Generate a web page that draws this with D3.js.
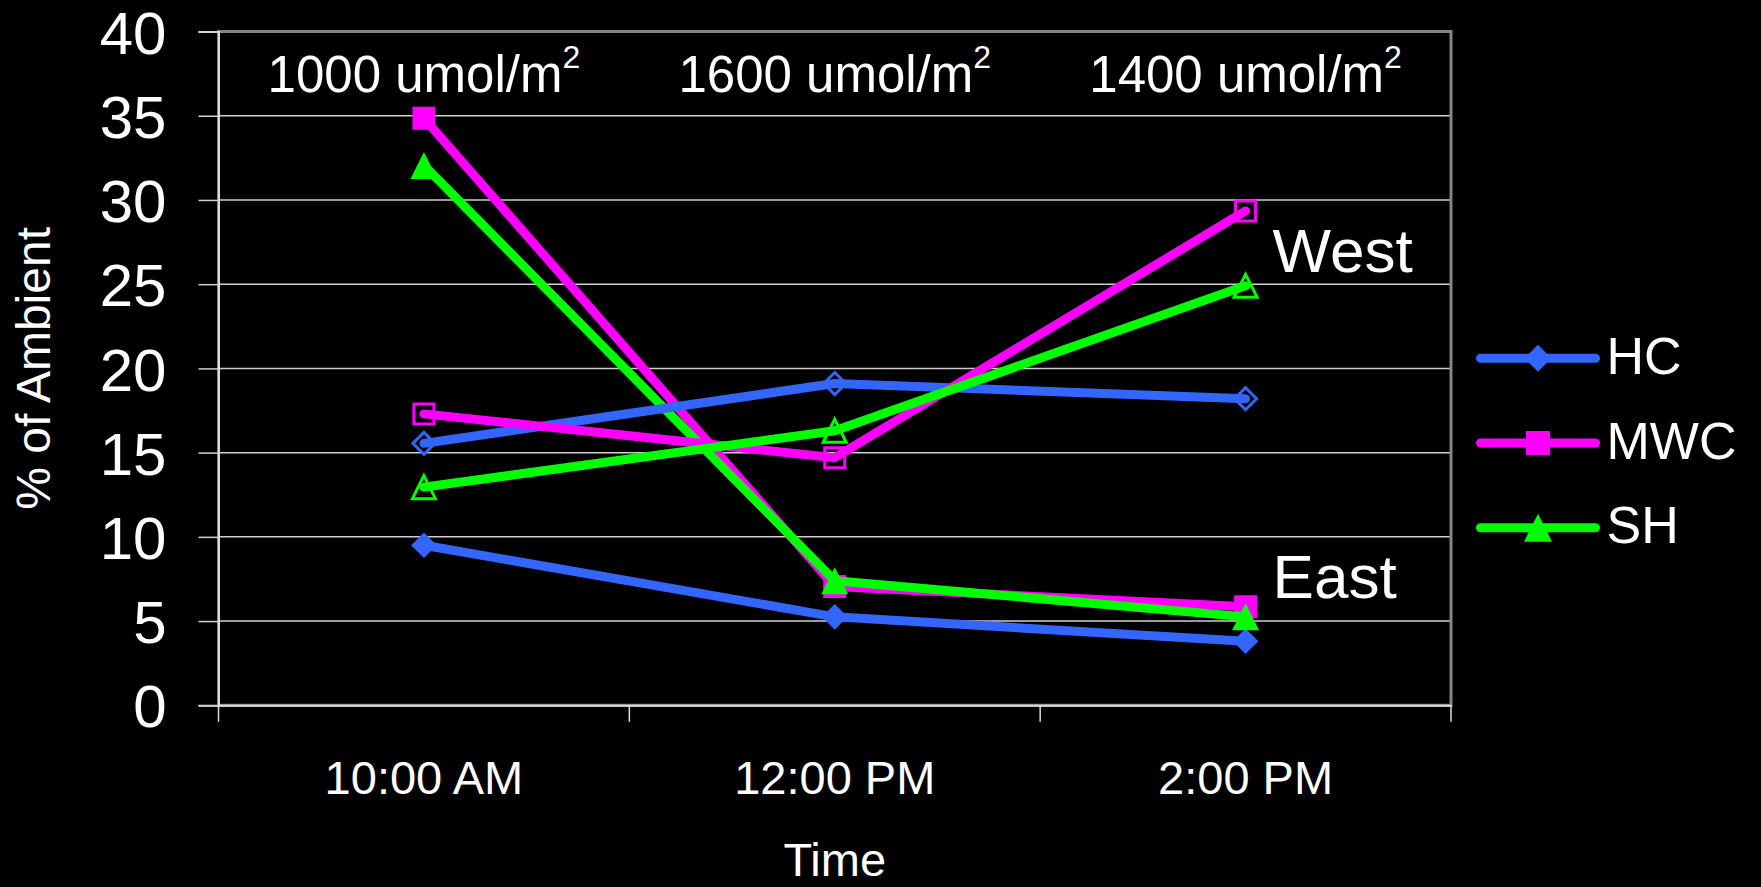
<!DOCTYPE html>
<html>
<head>
<meta charset="utf-8">
<script src="https://cdn.jsdelivr.net/npm/d3@7"></script>
<style>
  html, body { margin: 0; padding: 0; background: #000; }
  svg { display: block; }
  text { font-family: "Liberation Sans", Arial, sans-serif; fill: #fff; }
</style>
</head>
<body>
<svg id="chart" width="1761" height="887"></svg>
<script>
// ---------- data ----------
const categories = ["10:00 AM", "12:00 PM", "2:00 PM"];
const yTicks = [0, 5, 10, 15, 20, 25, 30, 35, 40];
const irradianceValues = ["1000", "1600", "1400"];
const irradianceUnit = "umol/m";
const irradianceSup = "2";

const hcEast  = [9.5, 5.25, 3.8];
const mwcEast = [34.85, 7.05, 5.85];
const shEast  = [32.05, 7.4, 5.25];
const hcWest  = [15.55, 19.1, 18.2];
const mwcWest = [17.3, 14.7, 29.35];
const shWest  = [12.95, 16.3, 24.9];

const legendLabels = ["HC", "MWC", "SH"];
const regionLabels = ["West", "East"];
const regionLabelValues = [25.75, 6.35];
const xTitle = "Time";
const yTitle = "% of Ambient";

// ---------- styling ----------
const colors = { HC: "#3366ff", MWC: "#ff00ff", SH: "#00ff00" };
const shapes = { HC: "diamond", MWC: "square", SH: "triangle" };

const series = [
  { name: "HC",  values: hcEast,  filled: true },
  { name: "MWC", values: mwcEast, filled: true },
  { name: "SH",  values: shEast,  filled: true },
  { name: "HC",  values: hcWest,  filled: false },
  { name: "MWC", values: mwcWest, filled: false },
  { name: "SH",  values: shWest,  filled: false }
];

const svg = d3.select("#chart");
const W = 1761, H = 887;
svg.append("rect").attr("width", W).attr("height", H).attr("fill", "#000");

const plot = { left: 218.5, right: 1451, top: 31.5, bottom: 705.3 };

const x = d3.scaleBand().domain(categories).range([plot.left, plot.right]).padding(0);
const y = d3.scaleLinear().domain([0, 40]).range([plot.bottom, plot.top]);
const xc = d => x(d) + x.bandwidth() / 2;

// gridlines
svg.append("g").selectAll("line")
  .data(yTicks.filter(t => t > 0 && t < 40))
  .join("line")
  .attr("x1", plot.left).attr("x2", plot.right)
  .attr("y1", d => y(d)).attr("y2", d => y(d))
  .attr("stroke", "#cfcfcf").attr("stroke-width", 1.5);

// plot frame
svg.append("rect")
  .attr("x", plot.left).attr("y", plot.top)
  .attr("width", plot.right - plot.left).attr("height", plot.bottom - plot.top)
  .attr("fill", "none").attr("stroke", "#858585").attr("stroke-width", 3);

// y axis
const yAxis = d3.axisLeft(y).tickValues(yTicks).tickSize(20).tickPadding(32).tickFormat(d3.format("d"));
const gy = svg.append("g").attr("transform", `translate(${plot.left},0)`).call(yAxis);
gy.select(".domain").attr("stroke", "#dcdcdc").attr("stroke-width", 2);
gy.selectAll(".tick line").attr("stroke", "#cfcfcf").attr("stroke-width", 1.5);
gy.selectAll(".tick text")
  .attr("font-size", 60).attr("dy", "0.36em")
  .attr("font-family", "'Liberation Sans', Arial, sans-serif").attr("fill", "#fff");

// x axis (labels centred in bands, ticks between categories)
const xAxis = d3.axisBottom(x).tickSize(0).tickPadding(55);
const gx = svg.append("g").attr("transform", `translate(0,${plot.bottom})`).call(xAxis);
gx.select(".domain").attr("stroke", "#dcdcdc").attr("stroke-width", 2);
gx.selectAll(".tick text")
  .attr("font-size", 47)
  .attr("font-family", "'Liberation Sans', Arial, sans-serif").attr("fill", "#fff");
const boundaries = categories.map(c => x(c)).concat([x.range()[1]]);
svg.append("g").selectAll("line").data(boundaries).join("line")
  .attr("x1", d => d).attr("x2", d => d)
  .attr("y1", plot.bottom).attr("y2", plot.bottom + 16.5)
  .attr("stroke", "#dcdcdc").attr("stroke-width", 1.5);

// axis titles
svg.append("text")
  .attr("x", xc(categories[1])).attr("y", 876)
  .attr("text-anchor", "middle").attr("font-size", 47)
  .text(xTitle);
svg.append("text")
  .attr("transform", `translate(50,${(plot.top + plot.bottom) / 2}) rotate(-90)`)
  .attr("text-anchor", "middle").attr("font-size", 48)
  .text(yTitle);

// irradiance annotations
const ann = svg.append("g").selectAll("text").data(categories).join("text")
  .attr("x", d => xc(d)).attr("y", 91.7)
  .attr("text-anchor", "middle").attr("font-size", 51);
ann.append("tspan").text((d, i) => irradianceValues[i] + " " + irradianceUnit);
ann.append("tspan").attr("font-size", 32).attr("dy", -23.5).text(irradianceSup);

// marker path generator
function markerPath(shape, s) {
  if (shape === "diamond") return `M0,${-s}L${s},0L0,${s}L${-s},0Z`;
  if (shape === "square") return `M${-s},${-s}H${s}V${s}H${-s}Z`;
  return `M0,${-s}L${s},${s}L${-s},${s}Z`;
}
const filledSize = { diamond: 12.8, square: 11.5, triangle: 13.5 };
const openSize = { diamond: 11, square: 10, triangle: 11.5 };

const line = d3.line().x((d, i) => xc(categories[i])).y(d => y(d));

series.forEach(s => {
  const g = svg.append("g");
  g.append("path")
    .attr("d", line(s.values))
    .attr("fill", "none").attr("stroke", colors[s.name])
    .attr("stroke-width", 9).attr("stroke-linecap", "round").attr("stroke-linejoin", "round");
  const shape = shapes[s.name];
  g.selectAll("path.m").data(s.values).join("path")
    .attr("class", "m")
    .attr("transform", (d, i) => `translate(${xc(categories[i])},${y(d)})`)
    .attr("d", markerPath(shape, s.filled ? filledSize[shape] : openSize[shape]))
    .attr("fill", s.filled ? colors[s.name] : "none")
    .attr("stroke", s.filled ? "none" : colors[s.name])
    .attr("stroke-width", s.filled ? 0 : 3)
    .attr("stroke-linejoin", "miter");
});

// region labels
svg.append("g").selectAll("text").data(regionLabels).join("text")
  .attr("x", xc(categories[2]) + 27)
  .attr("y", (d, i) => y(regionLabelValues[i]))
  .attr("font-size", 62)
  .text(d => d);

// legend
const legend = svg.append("g").attr("transform", "translate(1480.5,358.3)");
const legendSize = { diamond: 13.5, square: 12, triangle: 14 };
legendLabels.forEach((name, i) => {
  const row = legend.append("g").attr("transform", `translate(0,${i * 84.7})`);
  row.append("line").attr("x1", 0).attr("x2", 115)
    .attr("stroke", colors[name]).attr("stroke-width", 9).attr("stroke-linecap", "round");
  row.append("path")
    .attr("transform", "translate(57.5,0)")
    .attr("d", markerPath(shapes[name], legendSize[shapes[name]]))
    .attr("fill", colors[name]);
  row.append("text").attr("x", 126).attr("y", 15.7).attr("font-size", 52).text(name);
});
</script>
</body>
</html>
